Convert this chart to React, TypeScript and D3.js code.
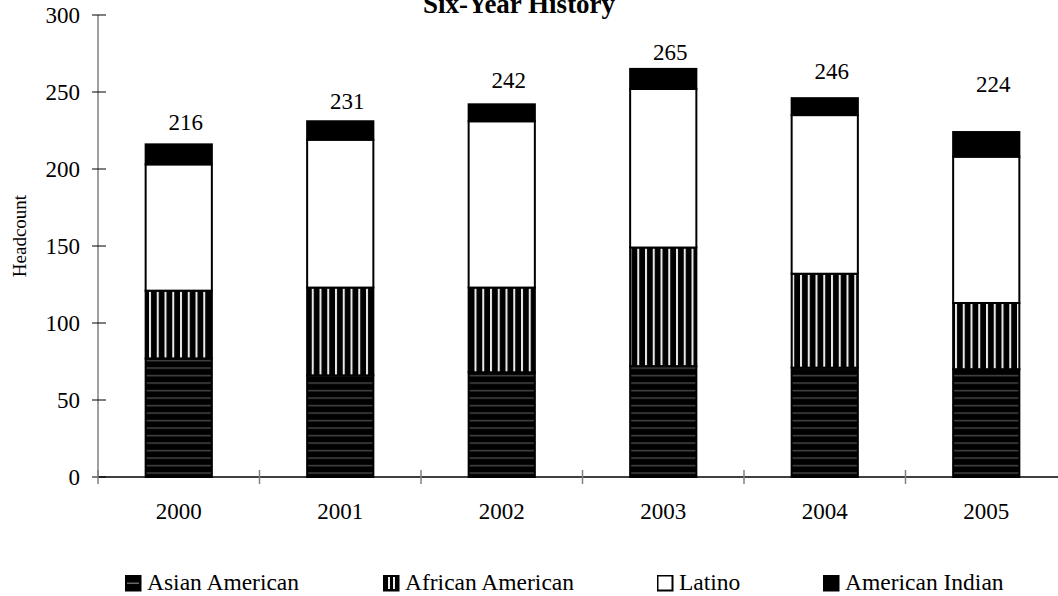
import React from "react";
import * as d3 from "d3";

const years = ["2000", "2001", "2002", "2003", "2004", "2005"];
const seriesNames = ["Asian American", "African American", "Latino", "American Indian"];
const asianAmerican = [77, 66, 68, 72, 71, 70];
const africanAmerican = [44, 57, 55, 77, 61, 43];
const latino = [82, 96, 108, 103, 103, 95];
const americanIndian = [13, 12, 11, 13, 11, 16];
const totals = [216, 231, 242, 265, 246, 224];
// where each total label sits, in headcount units
const labelAt = [230.5, 244, 258, 276, 263.5, 255];
const yTicks = [0, 50, 100, 150, 200, 250, 300];

const W = 1058;
const H = 596;
const FONT = "'Liberation Serif', 'Times New Roman', serif";

export default function App() {
  const x = d3.scaleBand<string>().domain(years).range([98, 1067]).padding(0);
  const y = d3.scaleLinear().domain([0, 300]).range([477, 15]);
  const barW = x.bandwidth() * 0.41;

  const rows = years.map((yr, i) => ({
    year: yr,
    "Asian American": asianAmerican[i],
    "African American": africanAmerican[i],
    Latino: latino[i],
    "American Indian": americanIndian[i],
  }));
  const stack = d3.stack<any>().keys(seriesNames)(rows);
  const fills: Record<string, string> = {
    "Asian American": "url(#horiz)",
    "African American": "url(#vert)",
    Latino: "#ffffff",
    "American Indian": "#000000",
  };

  const legendX = [125, 383, 657, 823];

  return (
    <svg width={W} height={H} style={{ position: "absolute", left: 0, top: 0 }} fontFamily={FONT}>
      <defs>
        <pattern id="horiz" patternUnits="userSpaceOnUse" width={8} height={7.5} y={477}>
          <rect width={8} height={7.5} fill="#000" />
          <rect y={3} width={8} height={1.2} fill="#555" />
        </pattern>
        <pattern id="vert" patternUnits="userSpaceOnUse" width={7.75} height={8} x={149}>
          <rect width={7.75} height={8} fill="#000" />
          <rect x={0} width={2} height={8} fill="#e8e8e8" />
        </pattern>
      </defs>
      <rect width={W} height={H} fill="#fff" />

      <text x={519} y={13} textAnchor="middle" fontWeight="bold" fontSize={27}>
        Six-Year History
      </text>

      {/* bars */}
      {stack.map((s) =>
        s.map((d, i) => {
          const cx = (x(years[i]) as number) + x.bandwidth() / 2;
          return (
            <rect
              key={s.key + i}
              x={cx - barW / 2}
              y={y(d[1])}
              width={barW}
              height={y(d[0]) - y(d[1])}
              fill={fills[s.key]}
              stroke="#000"
              strokeWidth={2}
            />
          );
        })
      )}

      {/* total labels */}
      {totals.map((t, i) => (
        <text
          key={"t" + i}
          x={(x(years[i]) as number) + x.bandwidth() / 2 + 7}
          y={y(labelAt[i])}
          dy="0.35em"
          textAnchor="middle"
          fontSize={23}
        >
          {t}
        </text>
      ))}

      {/* y axis */}
      <line x1={98} x2={98} y1={y(300)} y2={y(0)} stroke="#808080" strokeWidth={1.5} />
      {yTicks.map((t) => (
        <g key={"y" + t}>
          <line x1={92} x2={106} y1={y(t)} y2={y(t)} stroke="#000" strokeWidth={1} />
          <text x={80} y={y(t)} dy="0.35em" textAnchor="end" fontSize={23}>
            {t}
          </text>
        </g>
      ))}

      {/* x axis */}
      <line x1={98} x2={1067} y1={y(0)} y2={y(0)} stroke="#000" strokeWidth={1.5} />
      {years.map((yr, i) => (
        <line
          key={"xt" + i}
          x1={(x(yr) as number)}
          x2={(x(yr) as number)}
          y1={470}
          y2={484}
          stroke="#808080"
          strokeWidth={1.5}
        />
      ))}
      {years.map((yr) => (
        <text
          key={"xl" + yr}
          x={(x(yr) as number) + x.bandwidth() / 2}
          y={519}
          textAnchor="middle"
          fontSize={23}
        >
          {yr}
        </text>
      ))}

      <text
        transform={`translate(26,236) rotate(-90)`}
        textAnchor="middle"
        fontSize={19}
      >
        Headcount
      </text>

      {/* legend */}
      {seriesNames.map((n, i) => (
        <g key={"lg" + n} transform={`translate(${legendX[i]},575)`}>
          <rect x={0.75} y={0.75} width={15} height={15} fill="#000" stroke="#000" strokeWidth={1.5} />
          {i === 0 && <rect x={2} y={7.5} width={12} height={1.5} fill="#666" />}
          {i === 1 && (
            <>
              <rect x={5} y={2} width={2} height={12} fill="#eee" />
              <rect x={10} y={2} width={2} height={12} fill="#eee" />
            </>
          )}
          {i === 2 && <rect x={1.5} y={1.5} width={13} height={13} fill="#fff" />}
          <text x={22} y={15} fontSize={23.5}>
            {n}
          </text>
        </g>
      ))}
    </svg>
  );
}
